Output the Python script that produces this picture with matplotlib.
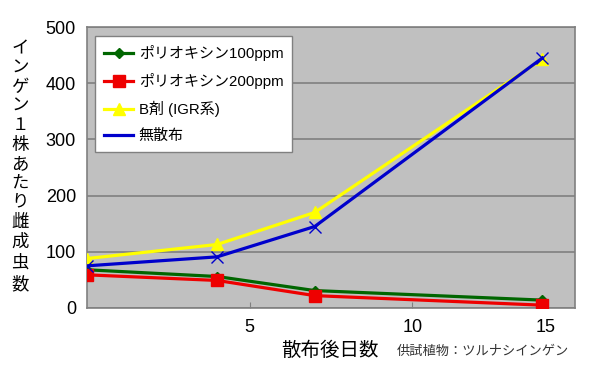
import matplotlib
matplotlib.use("Agg")
import matplotlib.pyplot as plt
from matplotlib.lines import Line2D

plt.rcParams['font.family'] = ['Liberation Sans', 'Noto Sans CJK JP', 'DejaVu Sans']

days = [0, 4, 7, 14]
poly100 = [68, 56, 31, 14]
poly200 = [59, 49, 22, 5]
bzai = [88, 113, 170, 443]
musanpu = [75, 91, 145, 445]

series_labels = ['ポリオキシン100ppm', 'ポリオキシン200ppm', 'B剤 (IGR系)', '無散布']
yticks = [0, 100, 200, 300, 400, 500]
xtick_pos = [5, 10, 14.1]
xtick_labels = ['5', '10', '15']
ylabel = 'インゲン１株あたり雌成虫数'
xlabel = '散布後日数'
note = '供試植物：ツルナシインゲン'

fig = plt.figure(figsize=(5.93, 3.70), dpi=100)
ax = fig.add_axes([0.1467, 0.1676, 0.8229, 0.7594])
ax.set_facecolor('#C0C0C0')

green = '#006600'
red = '#EE0000'
yellow = '#FFFF00'
blue = '#0000CC'

ax.plot(days, poly100, color=green, lw=2.3, marker='D', ms=5, mfc=green, mec=green, zorder=3)
ax.plot(days, poly200, color=red, lw=2.3, marker='s', ms=8, mfc=red, mec=red, zorder=4)
ax.plot(days, bzai, color=yellow, lw=2.3, marker='^', ms=8, mfc=yellow, mec=yellow, zorder=5)
ax.plot(days, musanpu, color=blue, lw=2.3, marker='x', ms=8, mew=1.0, mec=blue, zorder=6)

ax.set_xlim(0, 15)
ax.set_ylim(0, 500)
ax.set_yticks(yticks)
ax.set_yticklabels([str(v) for v in yticks], fontsize=13)
ax.set_xticks(xtick_pos)
ax.set_xticklabels(xtick_labels, fontsize=13)
ax.tick_params(axis='y', length=0, pad=8)
ax.tick_params(axis='x', direction='in', length=4, color='#808080', pad=8)
ax.yaxis.grid(True, color='#808080', lw=1.2)
ax.set_axisbelow(True)
for s in ax.spines.values():
    s.set_color('#808080')
    s.set_linewidth(1.2)

handles = [
    Line2D([], [], color=green, lw=2.3, marker='D', ms=5),
    Line2D([], [], color=red, lw=2.3, marker='s', ms=8),
    Line2D([], [], color=yellow, lw=2.3, marker='^', ms=8),
    Line2D([], [], color=blue, lw=2.3),
]
leg = ax.legend(handles, series_labels, loc='upper left', bbox_to_anchor=(0.017, 0.968),
                borderaxespad=0,
                fontsize=10.8, frameon=True, fancybox=False, handlelength=1.9,
                labelspacing=0.8, borderpad=0.6, handletextpad=0.4)
leg.get_frame().set_edgecolor('#808080')
leg.get_frame().set_linewidth(1.0)
leg.get_frame().set_facecolor('white')
leg.get_frame().set_alpha(1)

fig.text(0.034, 0.549, '\n'.join(ylabel), ha='center', va='center', fontsize=12.5,
         linespacing=1.32)
fig.text(0.556, 0.052, xlabel, ha='center', va='center', fontsize=14)
fig.text(0.815, 0.048, note, ha='center', va='center', fontsize=9.5, color='#333333')

fig.savefig('out.png', dpi=100)
